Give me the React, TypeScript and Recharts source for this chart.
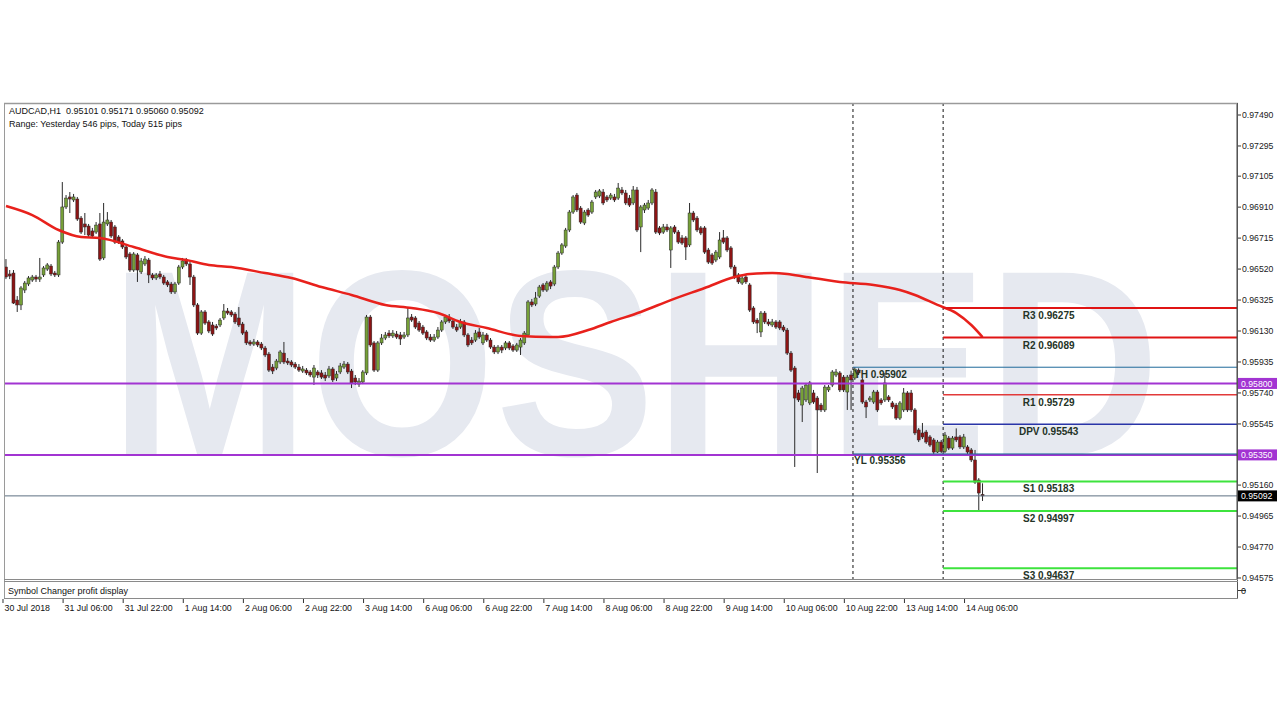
import React from 'react';
import { ComposedChart, Bar, Line, Scatter, XAxis, YAxis, ReferenceLine } from 'recharts';

// ---------- data ----------
const opens = [
  0.96533,0.96489,0.96495,0.96325,0.96294,0.96388,0.96426,0.96451,0.96470,0.96457,
  0.96483,0.96520,0.96539,0.96495,0.96483,0.96690,0.96911,0.96974,0.96955,0.96961,
  0.96841,0.96804,0.96791,0.96760,0.96753,0.96804,0.96590,0.96804,0.96816,0.96785,
  0.96722,0.96697,0.96659,0.96615,0.96514,0.96609,0.96502,0.96552,0.96577,0.96483,
  0.96464,0.96489,0.96470,0.96439,0.96426,0.96376,0.96432,0.96533,0.96577,0.96552,
  0.96470,0.96294,0.96117,0.96250,0.96187,0.96168,0.96161,0.96168,0.96212,0.96256,
  0.96250,0.96237,0.96212,0.96174,0.96124,0.96061,0.96048,0.96061,0.96048,0.96023,
  0.95985,0.95903,0.95897,0.95935,0.95991,0.95941,0.95935,0.95922,0.95903,0.95878,
  0.95884,0.95872,0.95840,0.95872,0.95866,0.95853,0.95847,0.95891,0.95834,0.95872,
  0.95903,0.95922,0.95878,0.95834,0.95796,0.95809,0.95866,0.96218,0.96055,0.95884,
  0.96055,0.96086,0.96117,0.96099,0.96111,0.96105,0.96092,0.96105,0.96218,0.96212,
  0.96180,0.96155,0.96124,0.96092,0.96073,0.96092,0.96136,0.96187,0.96218,0.96193,
  0.96155,0.96155,0.96187,0.96105,0.96073,0.96073,0.96124,0.96055,0.96105,0.96073,
  0.96029,0.95998,0.96029,0.96023,0.96055,0.96036,0.96010,0.96029,0.96055,0.96105,
  0.96313,0.96300,0.96350,0.96420,0.96388,0.96439,0.96426,0.96533,0.96621,0.96665,
  0.96766,0.96879,0.96986,0.96904,0.96810,0.96892,0.96879,0.96974,0.96980,0.97005,
  0.96974,0.96967,0.96974,0.96967,0.97018,0.96999,0.96967,0.96936,0.97018,0.96785,
  0.96892,0.96904,0.96936,0.97005,0.96779,0.96753,0.96785,0.96640,0.96785,0.96753,
  0.96716,0.96716,0.96672,0.96873,0.96841,0.96779,0.96779,0.96640,0.96609,0.96577,
  0.96596,0.96716,0.96716,0.96653,0.96533,0.96483,0.96432,0.96470,0.96420,0.96275,
  0.96199,0.96124,0.96243,0.96187,0.96168,0.96187,0.96187,0.96155,0.96136,0.95991,
  0.95897,0.95740,0.95664,0.95696,0.95677,0.95740,0.95708,0.95664,0.95633,0.95759,
  0.95790,0.95853,0.95866,0.95840,0.95746,0.95853,0.95834,0.95884,0.95822,0.95683,
  0.95696,0.95683,0.95746,0.95696,0.95696,0.95715,0.95677,0.95664,0.95582,0.95633,
  0.95740,0.95740,0.95633,0.95507,0.95488,0.95494,0.95463,0.95444,0.95368,0.95431,
  0.95371,0.95456,0.95393,0.95463,0.95463,0.95400,0.95400,0.95381,0.95318,0.95192,0.95101,
];

const highs = [
  0.96583,0.96514,0.96514,0.96350,0.96413,0.96445,0.96476,0.96483,0.96483,0.96590,
  0.96539,0.96558,0.96552,0.96508,0.96703,0.97068,0.96986,0.97005,0.96993,0.96974,
  0.96854,0.96873,0.96804,0.96779,0.96816,0.96873,0.96936,0.96879,0.96829,0.96797,
  0.96734,0.96709,0.96672,0.96627,0.96627,0.96621,0.96590,0.96602,0.96590,0.96495,
  0.96495,0.96508,0.96483,0.96451,0.96439,0.96439,0.96546,0.96590,0.96590,0.96577,
  0.96483,0.96306,0.96262,0.96262,0.96199,0.96187,0.96174,0.96212,0.96300,0.96275,
  0.96262,0.96250,0.96281,0.96187,0.96136,0.96073,0.96080,0.96073,0.96061,0.96036,
  0.95998,0.95922,0.95954,0.96010,0.96061,0.95960,0.95947,0.95935,0.95922,0.95910,
  0.95897,0.95884,0.95916,0.95884,0.95884,0.95872,0.95910,0.95903,0.95878,0.95929,
  0.95941,0.95935,0.95891,0.95853,0.95834,0.95884,0.96231,0.96231,0.96067,0.96067,
  0.96111,0.96124,0.96136,0.96136,0.96130,0.96124,0.96124,0.96281,0.96237,0.96224,
  0.96193,0.96168,0.96136,0.96111,0.96111,0.96155,0.96199,0.96231,0.96237,0.96206,
  0.96174,0.96206,0.96199,0.96117,0.96092,0.96136,0.96149,0.96124,0.96117,0.96086,
  0.96042,0.96042,0.96042,0.96067,0.96067,0.96048,0.96055,0.96086,0.96130,0.96325,
  0.96332,0.96376,0.96420,0.96432,0.96445,0.96451,0.96546,0.96634,0.96684,0.96779,
  0.96892,0.96986,0.96999,0.96917,0.96892,0.96904,0.96955,0.97018,0.97024,0.97024,
  0.96986,0.96999,0.96993,0.97062,0.97037,0.97018,0.96986,0.97043,0.97037,0.96923,
  0.96936,0.96955,0.97030,0.97024,0.96791,0.96804,0.96804,0.96791,0.96797,0.96766,
  0.96734,0.96728,0.96936,0.96886,0.96854,0.96791,0.96791,0.96653,0.96621,0.96640,
  0.96753,0.96766,0.96728,0.96665,0.96546,0.96495,0.96476,0.96483,0.96432,0.96287,
  0.96212,0.96256,0.96256,0.96206,0.96206,0.96199,0.96199,0.96168,0.96149,0.96004,
  0.95910,0.95759,0.95784,0.95803,0.95815,0.95759,0.95721,0.95677,0.95790,0.95790,
  0.95884,0.95891,0.95878,0.95853,0.95853,0.95880,0.95902,0.95895,0.95834,0.95696,
  0.95721,0.95759,0.95759,0.95708,0.95866,0.95727,0.95689,0.95677,0.95689,0.95771,
  0.95752,0.95759,0.95645,0.95519,0.95551,0.95507,0.95475,0.95456,0.95444,0.95444,
  0.95494,0.95469,0.95469,0.95517,0.95475,0.95482,0.95412,0.95393,0.95381,0.95204,0.95171,
];

const lows = [
  0.96457,0.96457,0.96300,0.96250,0.96262,0.96369,0.96413,0.96439,0.96439,0.96439,
  0.96470,0.96508,0.96476,0.96470,0.96470,0.96678,0.96898,0.96873,0.96942,0.96823,
  0.96741,0.96734,0.96722,0.96716,0.96741,0.96571,0.96577,0.96791,0.96716,0.96678,
  0.96678,0.96646,0.96583,0.96502,0.96502,0.96439,0.96489,0.96539,0.96432,0.96451,
  0.96451,0.96457,0.96420,0.96407,0.96363,0.96363,0.96420,0.96520,0.96539,0.96420,
  0.96281,0.96105,0.96105,0.96168,0.96117,0.96099,0.96136,0.96155,0.96199,0.96231,
  0.96218,0.96174,0.96155,0.96105,0.96042,0.96036,0.96036,0.96029,0.96010,0.95966,
  0.95872,0.95859,0.95884,0.95922,0.95922,0.95916,0.95903,0.95891,0.95872,0.95866,
  0.95853,0.95840,0.95790,0.95834,0.95828,0.95815,0.95834,0.95809,0.95815,0.95859,
  0.95891,0.95859,0.95771,0.95790,0.95778,0.95796,0.95853,0.96029,0.95872,0.95872,
  0.96042,0.96073,0.96086,0.96086,0.96080,0.96042,0.96080,0.96092,0.96187,0.96143,
  0.96124,0.96105,0.96073,0.96061,0.96061,0.96080,0.96124,0.96174,0.96180,0.96143,
  0.96124,0.96143,0.96092,0.96029,0.96042,0.96061,0.96080,0.96042,0.96061,0.96017,
  0.95985,0.95985,0.95991,0.96010,0.96010,0.95998,0.95998,0.95979,0.96042,0.96092,
  0.96281,0.96287,0.96338,0.96376,0.96376,0.96394,0.96413,0.96520,0.96609,0.96653,
  0.96753,0.96867,0.96879,0.96804,0.96797,0.96848,0.96867,0.96961,0.96967,0.96923,
  0.96942,0.96955,0.96942,0.96955,0.96986,0.96923,0.96911,0.96923,0.96753,0.96627,
  0.96873,0.96892,0.96923,0.96741,0.96734,0.96741,0.96753,0.96527,0.96741,0.96678,
  0.96672,0.96577,0.96659,0.96816,0.96753,0.96734,0.96615,0.96552,0.96546,0.96564,
  0.96583,0.96678,0.96627,0.96520,0.96457,0.96426,0.96420,0.96426,0.96250,0.96174,
  0.96117,0.96092,0.96174,0.96161,0.96155,0.96143,0.96136,0.96124,0.95979,0.95872,
  0.95274,0.95683,0.95557,0.95683,0.95664,0.95671,0.95236,0.95620,0.95620,0.95746,
  0.95777,0.95840,0.95746,0.95746,0.95633,0.95633,0.95822,0.95853,0.95671,0.95582,
  0.95683,0.95671,0.95620,0.95664,0.95683,0.95683,0.95639,0.95570,0.95570,0.95620,
  0.95620,0.95620,0.95475,0.95431,0.95450,0.95419,0.95400,0.95356,0.95362,0.95362,
  0.95362,0.95381,0.95381,0.95431,0.95387,0.95387,0.95356,0.95305,0.95167,0.95002,0.95060,
];

const closes = [
  0.96470,0.96476,0.96306,0.96294,0.96401,0.96432,0.96464,0.96470,0.96457,0.96470,
  0.96527,0.96546,0.96489,0.96483,0.96690,0.96911,0.96967,0.96961,0.96974,0.96835,
  0.96753,0.96785,0.96734,0.96728,0.96797,0.96583,0.96816,0.96829,0.96728,0.96690,
  0.96690,0.96659,0.96596,0.96514,0.96615,0.96514,0.96571,0.96583,0.96483,0.96464,
  0.96483,0.96470,0.96432,0.96420,0.96376,0.96426,0.96533,0.96571,0.96552,0.96470,
  0.96294,0.96117,0.96250,0.96180,0.96130,0.96111,0.96149,0.96199,0.96256,0.96243,
  0.96231,0.96187,0.96168,0.96117,0.96055,0.96048,0.96061,0.96042,0.96023,0.95979,
  0.95884,0.95878,0.95941,0.95998,0.95935,0.95929,0.95916,0.95903,0.95884,0.95891,
  0.95866,0.95853,0.95897,0.95853,0.95840,0.95834,0.95891,0.95822,0.95859,0.95910,
  0.95922,0.95872,0.95803,0.95809,0.95815,0.95872,0.96218,0.96042,0.95884,0.96055,
  0.96086,0.96105,0.96099,0.96117,0.96092,0.96080,0.96105,0.96212,0.96199,0.96155,
  0.96136,0.96117,0.96086,0.96073,0.96092,0.96136,0.96187,0.96218,0.96193,0.96155,
  0.96136,0.96187,0.96105,0.96042,0.96055,0.96117,0.96092,0.96105,0.96073,0.96029,
  0.95998,0.96029,0.96010,0.96055,0.96023,0.96010,0.96042,0.96073,0.96117,0.96313,
  0.96294,0.96338,0.96407,0.96388,0.96432,0.96413,0.96533,0.96621,0.96672,0.96766,
  0.96879,0.96974,0.96892,0.96816,0.96879,0.96860,0.96942,0.97005,0.97012,0.96936,
  0.96955,0.96986,0.96955,0.97030,0.96999,0.96936,0.96923,0.97018,0.96766,0.96911,
  0.96923,0.96936,0.97018,0.96753,0.96747,0.96785,0.96766,0.96779,0.96753,0.96690,
  0.96684,0.96659,0.96873,0.96829,0.96766,0.96747,0.96627,0.96564,0.96558,0.96627,
  0.96703,0.96690,0.96640,0.96533,0.96470,0.96439,0.96464,0.96439,0.96262,0.96187,
  0.96180,0.96243,0.96187,0.96174,0.96187,0.96155,0.96149,0.96136,0.95991,0.95884,
  0.95708,0.95696,0.95771,0.95790,0.95803,0.95683,0.95633,0.95633,0.95777,0.95777,
  0.95872,0.95872,0.95759,0.95759,0.95840,0.95822,0.95890,0.95866,0.95683,0.95652,
  0.95708,0.95746,0.95633,0.95677,0.95803,0.95696,0.95652,0.95582,0.95677,0.95740,
  0.95633,0.95633,0.95488,0.95444,0.95463,0.95431,0.95412,0.95368,0.95431,0.95371,
  0.95475,0.95393,0.95456,0.95444,0.95400,0.95463,0.95368,0.95318,0.95179,0.95110,0.95092,
];

// moving average, read at sampled bars
const maIdx = [0,7,14,20,25,34,43,48,54,60,69,76,84,92,101,108,115,121,128,137,145,147,155,161,169,177,186,194,198,204,208,213,222,231,238,242,248,253,257,260];
const maVal = [0.96917,0.96860,0.96766,0.96722,0.96716,0.96659,0.96596,0.96577,0.96546,0.96533,0.96495,0.96464,0.96407,0.96357,0.96294,0.96275,0.96243,0.96187,0.96149,0.96099,0.96092,0.96092,0.96136,0.96187,0.96250,0.96325,0.96401,0.96470,0.96489,0.96495,0.96489,0.96470,0.96439,0.96420,0.96388,0.96357,0.96294,0.96243,0.96168,0.96092];

const timeTickIdx = [0,16,32,48,64,80,96,112,128,144,160,176,192,208,224,240,256];
const timeTickLabels = ['30 Jul 2018','31 Jul 06:00','31 Jul 22:00','1 Aug 14:00','2 Aug 06:00','2 Aug 22:00','3 Aug 14:00','6 Aug 06:00','6 Aug 22:00','7 Aug 14:00','8 Aug 06:00','8 Aug 22:00','9 Aug 14:00','10 Aug 06:00','10 Aug 22:00','13 Aug 14:00','14 Aug 06:00'];

const priceTicks = [0.9749,0.97295,0.97105,0.9691,0.96715,0.9652,0.96325,0.9613,0.95935,0.9574,0.95545,0.9535,0.9516,0.94965,0.9477,0.94575];

const alertLevels = [0.958, 0.9535];
const lastPrice = 0.95092;
const pivotNames = ['R3','R2','R1','DPV','S1','S2','S3'];
const pivotValues = [0.96275,0.96089,0.95729,0.95543,0.95183,0.94997,0.94637];
const yesterdayNames = ['YH','YL'];
const yesterdayValues = [0.95902,0.95356];
const yesterdayStart = 225.5;
const todayStart = 249.5;

// ---------- layout / style ----------
const FONT = '"Liberation Sans", Arial, sans-serif';
const X_MIN = -0.266;
const X_MAX = 327.74;
const Y_MIN = 0.945624;
const Y_MAX = 0.975656;
const PIVOT_LABEL_X = 277.6;
const YLABEL_X = 225.8;
const pivotStyle: Record<string, { stroke: string; w: number }> = {
  R3: { stroke: '#e01414', w: 2 },
  R2: { stroke: '#e01414', w: 2 },
  R1: { stroke: '#e23a3a', w: 1.5 },
  DPV: { stroke: '#2a35a8', w: 1.5 },
  S1: { stroke: '#3de33d', w: 2 },
  S2: { stroke: '#3de33d', w: 2 },
  S3: { stroke: '#3de33d', w: 2 },
};
const PURPLE = '#a234d2';

const fmt = (v: number) => v.toFixed(5);

const rows = closes.map((c, i) => ({
  i,
  o: opens[i],
  h: highs[i],
  l: lows[i],
  c,
  range: [lows[i], highs[i]],
  ma: null as number | null,
}));
maIdx.forEach((idx, k) => {
  rows[idx].ma = maVal[k];
});

const pivotLabelData = pivotNames.map((n, k) => ({ i: PIVOT_LABEL_X, v: pivotValues[k], text: `${n} ${fmt(pivotValues[k])}` }));
const yLabelData = yesterdayNames.map((n, k) => ({ i: YLABEL_X, v: yesterdayValues[k], text: `${n} ${fmt(yesterdayValues[k])}` }));

const yTicks = [...priceTicks, 0.958, lastPrice].sort((a, b) => b - a);

const Candle = (props: any) => {
  const { x, y, width, height, payload } = props;
  if (x == null || y == null || !payload) return null;
  const { o, h, l, c } = payload;
  const top = Math.min(y, y + height);
  const bot = Math.max(y, y + height);
  const span = h - l;
  const py = (p: number) => (span === 0 ? top : top + ((h - p) / span) * (bot - top));
  const cx = x + width / 2;
  const bull = c >= o;
  const bTop = py(Math.max(o, c));
  const bBot = py(Math.min(o, c));
  return (
    <g>
      <line x1={cx} x2={cx} y1={top} y2={bot} stroke="#2a2a2a" strokeWidth={1} />
      <rect
        x={cx - 1.5}
        y={bTop}
        width={3}
        height={Math.max(bBot - bTop, 1)}
        fill={bull ? '#76a038' : '#8c1414'}
        stroke="#2a2a2a"
        strokeWidth={0.5}
      />
    </g>
  );
};

const PriceTick = (props: any) => {
  const { y, payload } = props;
  const v = payload.value;
  const isAlert = alertLevels.some((a) => Math.abs(a - v) < 1e-7);
  const isLast = Math.abs(v - lastPrice) < 1e-7;
  if (isAlert || isLast) {
    return (
      <g>
        <rect x={1238} y={y - 5.5} width={39} height={11} fill={isLast ? '#000' : PURPLE} />
        <text x={1241} y={y + 3.2} fontSize={8.7} fontFamily={FONT} fill="#fff">{fmt(v)}</text>
      </g>
    );
  }
  return (
    <g>
      <line x1={1237} x2={1241} y1={y} y2={y} stroke="#333" strokeWidth={1} />
      <text x={1242} y={y + 3.2} fontSize={8.7} fontFamily={FONT} fill="#1a1a1a">{fmt(v)}</text>
    </g>
  );
};

const TimeTick = (props: any) => {
  const { x, payload } = props;
  const k = timeTickIdx.indexOf(payload.value);
  return (
    <g>
      <line x1={x - 3} x2={x - 3} y1={599} y2={603} stroke="#333" strokeWidth={1} />
      <text x={x - 1.5} y={611} fontSize={8.8} fontFamily={FONT} fill="#111">{timeTickLabels[k]}</text>
    </g>
  );
};

const PivotLabel = (props: any) => {
  const { cx, cy, payload } = props;
  if (cx == null || cy == null) return null;
  return (
    <text x={cx} y={cy + 11} textAnchor="middle" fontSize={10} fontWeight={700} fontFamily={FONT} fill="#243326">
      {payload.text}
    </text>
  );
};

const YLabel = (props: any) => {
  const { cx, cy, payload } = props;
  if (cx == null || cy == null) return null;
  return (
    <text x={cx} y={cy + 10.5} textAnchor="start" fontSize={10} fontWeight={700} fontFamily={FONT} fill="#243326">
      {payload.text}
    </text>
  );
};

export default function App() {
  const last = closes.length - 1;
  const header = `AUDCAD,H1\u00a0\u00a0${fmt(opens[last])} ${fmt(highs[last])} ${fmt(lows[last])} ${fmt(closes[last])}`;
  return (
    <div style={{ position: 'absolute', left: 0, top: 0, width: 1280, height: 720, background: '#fff', overflow: 'hidden' }}>
      {/* watermark */}
      <svg width={1280} height={720} style={{ position: 'absolute', left: 0, top: 0 }}>
        <text
          x={110}
          y={455}
          fontSize={265}
          fontWeight={700}
          fontFamily={FONT}
          fill="#e6e9f0"
          textLength={1050}
          lengthAdjust="spacingAndGlyphs"
        >
          MOSHED
        </text>
      </svg>
      <div style={{ position: 'absolute', left: 0, top: 0 }}>
        <ComposedChart width={1280} height={720} data={rows} margin={{ top: 103, right: 0, bottom: 120, left: 5 }}>
          <XAxis
            type="number"
            dataKey="i"
            domain={[X_MIN, X_MAX]}
            allowDataOverflow
            ticks={timeTickIdx}
            interval={0}
            tick={(p: any) => <TimeTick {...p} />}
            tickLine={false}
            axisLine={false}
            height={20}
          />
          <YAxis
            orientation="right"
            type="number"
            domain={[Y_MIN, Y_MAX]}
            allowDataOverflow
            ticks={yTicks}
            interval={0}
            tick={(p: any) => <PriceTick {...p} />}
            tickLine={false}
            axisLine={{ stroke: '#444' }}
            width={43}
          />
          <ReferenceLine x={yesterdayStart} stroke="#111" strokeDasharray="3 3" strokeWidth={1} />
          <ReferenceLine x={todayStart} stroke="#111" strokeDasharray="3 3" strokeWidth={1} />
          <Bar dataKey="range" barSize={3} isAnimationActive={false} shape={(p: any) => <Candle {...p} />} />
          <Line
            dataKey="ma"
            type="monotone"
            connectNulls
            stroke="#e8211c"
            strokeWidth={2.5}
            dot={false}
            activeDot={false}
            isAnimationActive={false}
          />
          {alertLevels.map((v) => (
            <ReferenceLine key={`a${v}`} y={v} stroke={PURPLE} strokeWidth={2} />
          ))}
          <ReferenceLine y={lastPrice} stroke="#5e7183" strokeWidth={1} />
          <ReferenceLine
            segment={[{ x: yesterdayStart, y: yesterdayValues[0] }, { x: X_MAX, y: yesterdayValues[0] }]}
            stroke="#1f6a9a"
            strokeWidth={1}
          />
          <ReferenceLine
            segment={[{ x: yesterdayStart, y: yesterdayValues[1] }, { x: X_MAX, y: yesterdayValues[1] }]}
            stroke="#1f6a9a"
            strokeWidth={1}
          />
          {pivotNames.map((n, k) => (
            <ReferenceLine
              key={n}
              segment={[{ x: todayStart, y: pivotValues[k] }, { x: X_MAX, y: pivotValues[k] }]}
              stroke={pivotStyle[n].stroke}
              strokeWidth={pivotStyle[n].w}
            />
          ))}
          <Scatter data={pivotLabelData} dataKey="v" isAnimationActive={false} shape={(p: any) => <PivotLabel {...p} />} />
          <Scatter data={yLabelData} dataKey="v" isAnimationActive={false} shape={(p: any) => <YLabel {...p} />} />
        </ComposedChart>
      </div>
      {/* frame, header, sub window */}
      <svg width={1280} height={720} style={{ position: 'absolute', left: 0, top: 0, pointerEvents: 'none' }}>
        <line x1={4} x2={1238} y1={103.5} y2={103.5} stroke="#9a9a9a" strokeWidth={1.5} />
        <line x1={4.5} x2={4.5} y1={103} y2={598.5} stroke="#9a9a9a" strokeWidth={1} />
        <line x1={1237.5} x2={1237.5} y1={103} y2={598.5} stroke="#555" strokeWidth={1} />
        <line x1={4} x2={1238} y1={579.5} y2={579.5} stroke="#8a8a8a" strokeWidth={1} />
        <line x1={4} x2={1238} y1={581.5} y2={581.5} stroke="#8a8a8a" strokeWidth={1} />
        <line x1={4} x2={1238} y1={598.5} y2={598.5} stroke="#8a8a8a" strokeWidth={1} />
        <text x={9} y={113.5} fontSize={9} fontFamily={FONT} fill="#111">{header}</text>
        <text x={9} y={126.5} fontSize={9} fontFamily={FONT} fill="#111">Range: Yesterday 546 pips, Today 515 pips</text>
        <text x={8} y={593.5} fontSize={9} fontFamily={FONT} fill="#111">Symbol Changer profit display</text>
        <text x={1241} y={594} fontSize={9} fontFamily={FONT} fill="#111">0</text>
        <line x1={1238} x2={1246} y1={590.5} y2={590.5} stroke="#333" strokeWidth={1} />
      </svg>
    </div>
  );
}
